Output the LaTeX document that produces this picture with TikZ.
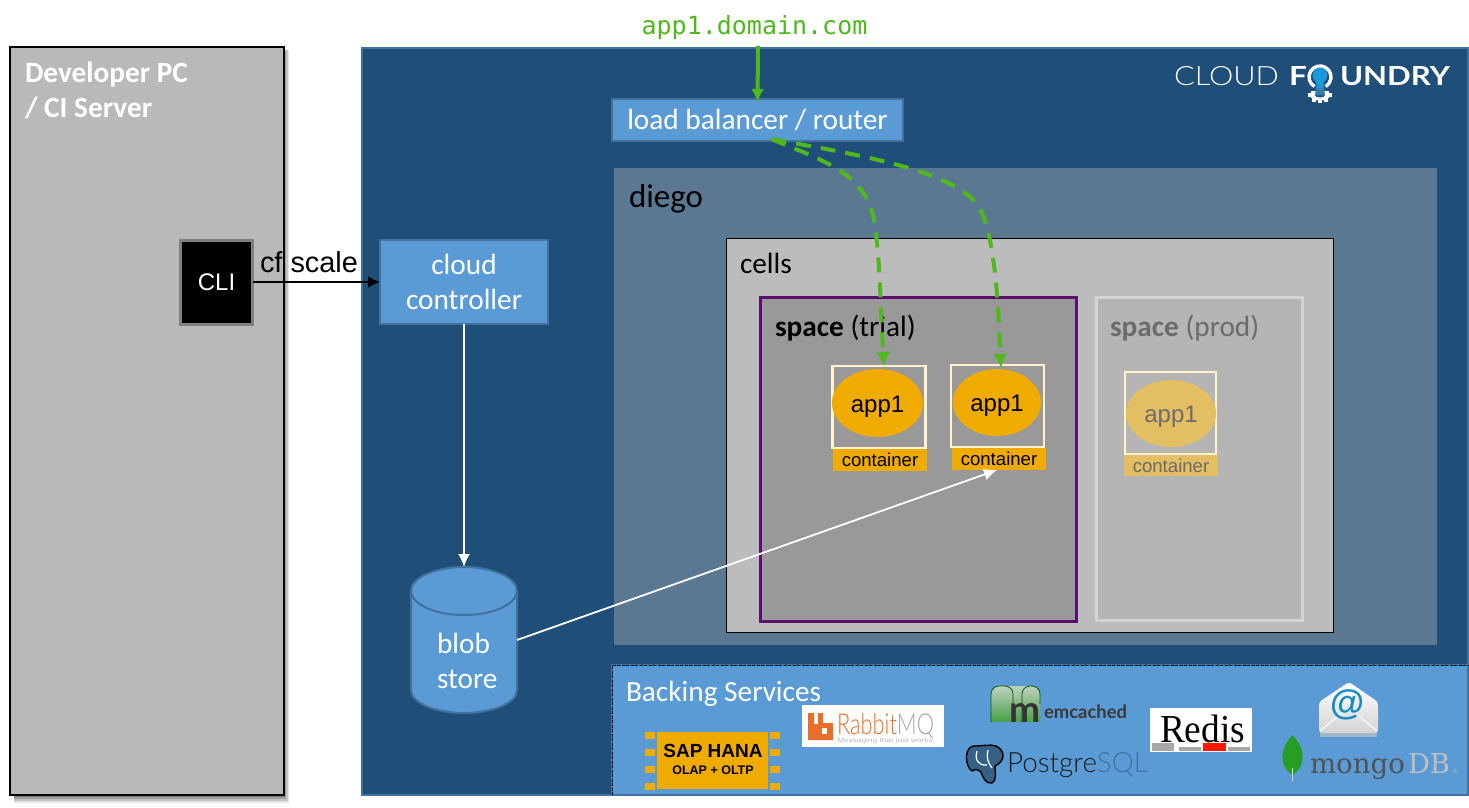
\documentclass[tikz,border=0pt]{standalone}
\usepackage{fontspec}
\usepackage{graphicx}
\setmainfont{Carlito}
\newfontfamily\arialf{Liberation Sans}
\newfontfamily\monof{DejaVu Sans Mono}
\newfontfamily\serf{Liberation Serif}
\newfontfamily\slabf{DejaVu Serif}
\newfontfamily\lightf{Lato Light}
\newfontfamily\latof{Lato}
\usetikzlibrary{arrows.meta,calc,shapes.geometric}
\definecolor{navy}{HTML}{1F4E79}
\definecolor{navyedge}{HTML}{41719C}
\definecolor{diegoc}{HTML}{5B7893}
\definecolor{cellsc}{HTML}{BCBCBC}
\definecolor{devc}{HTML}{B9B9B9}
\definecolor{bluec}{HTML}{5B9BD5}
\definecolor{orangec}{HTML}{F0AB00}
\definecolor{paleor}{HTML}{E4BE62}
\definecolor{greenc}{HTML}{4FB81C}
\definecolor{purplec}{HTML}{5A0F6B}
\definecolor{creamc}{HTML}{FFF2CC}
\definecolor{rabbitc}{HTML}{E96D2C}
\definecolor{cfblue}{HTML}{1A9ADB}
\newcommand{\fs}[1]{\fontsize{#1pt}{#1pt}\selectfont}
\newcommand{\fitw}[2]{\resizebox{#1pt}{!}{#2}}
\newcommand{\fitwh}[3]{\resizebox{#1pt}{#2pt}{#3}}
\tikzset{
  x=1pt,y=-1pt,
  plain/.style={inner sep=0pt,outer sep=0pt,rectangle},
  bluebox/.style={plain,fill=bluec,draw=navyedge,line width=2.4pt,text=white,align=center},
  panel/.style={plain,anchor=north west},
  contbox/.style={plain,draw=creamc,line width=2.2pt},
  appell/.style={plain,ellipse,fill=orangec,font=\arialf\fs{24},text=black,text height=18pt,text depth=0pt},
  contlab/.style={plain,fill=orangec,font=\arialf\fs{18.6},text=black},
  whitearrow/.style={draw=white,line width=1.8pt,-{Latex[length=13pt,width=12pt]}},
  greenarrow/.style={draw=greenc,line width=4pt,-{Latex[length=13pt,width=13pt]}},
  greendash/.style={draw=greenc,line width=4pt,dash pattern=on 15pt off 10pt,-{Latex[length=14pt,width=14pt]}},
  lbl/.style={plain,anchor=west},
  captxt/.style={font=\fs{29.3}},
}
\begin{document}
\begin{tikzpicture}
\useasboundingbox (0,0) rectangle (1469,808);
\fill[white] (0,0) rectangle (1469,808);
% developer PC
\foreach \dd/\oo in {8/.10,6/.14,4/.18,2/.22}{
  \fill[black,opacity=\oo] (14,50) rectangle (284+\dd*.6,795+\dd);
}
\node[panel,fill=devc,draw=black,line width=2pt,minimum width=274pt,minimum height=748pt] (dev) at (10,47) {};
\node[lbl,font=\fs{29.3}\bfseries,text=white,align=left] (devt) at (25,90.5) {Developer PC\\[5.7pt]/ CI Server};
% platform
\node[panel,fill=navy,draw=navyedge,line width=1.8pt,minimum width=1106pt,minimum height=747pt] (cf) at (362,48) {};
\node[panel,fill=diegoc,minimum width=823pt,minimum height=477pt] (diego) at (614,168) {};
\node[lbl,font=\fs{33},text=black] (diegot) at (629,199) {diego};
\node[panel,fill=cellsc,draw=black,line width=1pt,minimum width=607pt,minimum height=394pt] (cells) at (726,238) {};
\node[lbl,captxt,text=black] (cellst) at (740,263) {cells};
\node[panel,fill=black!40,draw=purplec,line width=3pt,minimum width=316.5pt,minimum height=324pt] (trial) at (760,297) {};
\node[lbl,captxt,text=black] (trialt) at (775,328) {\textbf{space} (trial)};
\node[panel,fill=black!29,draw=black!17,line width=3pt,minimum width=206.5pt,minimum height=323pt] (prod) at (1096,297) {};
\node[lbl,captxt,text=black!58] (prodt) at (1110,328) {\textbf{space} (prod)};
% containers
\node[contbox,minimum width=93pt,minimum height=82pt] (c1) at (879,407) {};
\node[appell,minimum width=91pt,minimum height=68pt] (a1) at (877.5,403) {app1};
\node[contlab,minimum width=94pt,minimum height=22pt] (l1) at (880,460) {container};
\node[contbox,minimum width=93pt,minimum height=82pt] (c2) at (997.5,406) {};
\node[appell,minimum width=88pt,minimum height=67pt] (a2) at (997,402.5) {app1};
\node[contlab,minimum width=94pt,minimum height=22pt] (l2) at (999,459) {container};
\node[contbox,minimum width=91pt,minimum height=82pt] (c3) at (1170.5,413) {};
\node[appell,fill=paleor,text=black!58,minimum width=90pt,minimum height=67pt] (a3) at (1171,413.5) {app1};
\node[contlab,fill=paleor,text=black!58,minimum width=94pt,minimum height=21pt] (l3) at (1171,465.5) {container};
% top row
\node[plain,font=\monof\fs{25},text=greenc] (url) at (754.5,27.5) {app1.domain.com};
\node[bluebox,captxt,minimum width=291pt,minimum height=42pt] (lb) at (757.5,120) {load balancer / router};
\node[bluebox,captxt,minimum width=168pt,minimum height=84pt] (cc) at (464,282) {\raisebox{-1pt}{cloud}\\[5.7pt]\raisebox{-1pt}{controller}};
\node[plain,fill=black,draw=black!50,line width=3pt,text=white,font=\arialf\fs{24},minimum width=72pt,minimum height=84pt] (cli) at (216.5,282) {CLI};
% blob store
\path[fill=bluec,draw=navyedge,line width=2pt] (411,591) arc[start angle=180,end angle=0,x radius=53,y radius=-24] -- (517,690) arc[start angle=0,end angle=180,x radius=53,y radius=23] -- cycle;
\path[draw=navyedge,line width=2pt] (411,591) arc[start angle=180,end angle=360,x radius=53,y radius=-24];
\node[plain,minimum height=146pt,minimum width=106pt] (blob) at (464,640) {};
\node[lbl,text=white,captxt,align=left] (blobt) at (437,660.5) {blob\\[5.7pt]store};
% backing services
\node[panel,fill=bluec,draw=navyedge,line width=1.6pt,minimum width=856pt,minimum height=130pt] (back) at (612,665) {};
\draw[black!80!navy,line width=.9pt,dash pattern=on 3pt off 1.5pt] (back.south west) -- (back.north west) -- (back.north east);
\node[lbl,captxt,text=white] (backt) at (626,694) {Backing Services};
% SAP HANA
\fill[orangec] (657,732) rectangle (768,789);
\foreach \yy in {732,749,766,783}{
  \fill[orangec] (645,\yy) rectangle (655,\yy+6.5);
  \fill[orangec] (770,\yy) rectangle (780,\yy+6.5);
}
\node[plain,font=\arialf\bfseries\fs{19},text=black] (sap) at (713,751) {SAP HANA};
\node[plain,font=\arialf\bfseries\fs{12.5},text=black] (olap) at (713,770) {OLAP + OLTP};
% RabbitMQ
\fill[white] (802,705) rectangle (944,747);
\fill[rabbitc] (808,713) -- (814,713) -- (814,724) -- (818,724) -- (818,713) -- (823,713) -- (823,723) -- (833,723) -- (833,740) -- (808,740) -- cycle;
\fill[white] (822,728) rectangle (827,734);
\node[plain,anchor=base west] (rab) at (837,734) {\fitwh{97}{21}{\lightf\textcolor{rabbitc}{Rabbit}\textcolor{black!35}{MQ}}};
\node[plain,anchor=base west,text=black!28] (rabs) at (837,742) {\fitwh{98}{4.5}{\arialf Messaging that just works.}};
% memcached
\shade[top color=green!30!black!25!white,bottom color=green!55!black,middle color=green!45!black!60!white,rounded corners=8pt] (991,740) -- (991,686) -- (1040,686) -- (1040,740) -- cycle;
\fill[bluec] (990,722) rectangle (1041,741);
\draw[green!35!black,line width=.8pt,rounded corners=8pt] (991,722) -- (991,686) -- (1013,686) -- (1013,722);
\draw[green!35!black,line width=.8pt,rounded corners=8pt] (1022,722) -- (1022,686) -- (1040,686) -- (1040,704);
\node[plain,anchor=base west,text=black!80] (mm) at (1009,722) {\fitwh{31}{19}{\latof\bfseries m}};
\node[plain,anchor=west,text=black!78] (mem) at (1044,712) {\fitw{83}{\latof\bfseries emcached}};
% PostgreSQL
\fill[navyedge!85!black,draw=black,line width=1.4pt] (976,746) .. controls (964,744) and (964,766) .. (972,771) .. controls (976,768) and (979,770) .. (981,772) .. controls (983,778) and (986,784) .. (992,783) .. controls (997,781) and (995,772) .. (995,766) .. controls (1006,761) and (1005,750) .. (996,746) .. controls (990,744) and (982,746) .. (976,746) -- cycle;
\draw[white,line width=1.2pt] (977,751) .. controls (974,760) and (979,766) .. (987,765) (988,750) .. controls (986,757) and (988,763) .. (992,768);
\node[plain,anchor=west] (pg) at (1007,765) {\fitw{141}{\lightf\textcolor{black!90}{Postgre}\textcolor{navyedge}{SQL}}};
% Redis
\fill[white] (1150,708) rectangle (1252,752);
\node[plain,anchor=center,text=black] (red) at (1202.5,728.5) {\fitwh{85}{27.5}{\serf Redis}};
\fill[black!34] (1152,743) rectangle (1174,751);
\fill[black!34] (1179,747) rectangle (1201,751);
\fill[red!80!orange] (1203,743) rectangle (1226,751);
\fill[black!34] (1228,747) rectangle (1250,751);
% mail
\fill[navyedge!45!black!30!white,opacity=.7] (1320,731) rectangle (1377,737);
\shade[top color=white,bottom color=black!17,rounded corners=3pt] (1319,702) -- (1349,682) -- (1378,702) -- (1378,733) -- (1319,733) -- cycle;
\draw[white,line width=.9pt] (1320,731) -- (1343,712) (1377,731) -- (1354,712);
\node[plain,font=\arialf\bfseries\fs{35},text=cfblue!90!black] (at) at (1348,705) {@};
% mongo
\fill[green!55!black!85] (1292.5,735) .. controls (1280,748) and (1278,766) .. (1292.5,775) .. controls (1307,766) and (1305,748) .. (1292.5,735) -- cycle;
\draw[black!15,line width=1.2pt] (1292.5,768) -- (1292.5,781);
\node[plain,anchor=base west,text=black!68] (mg) at (1310,773) {\fitw{95}{\slabf mongo}};
\node[plain,anchor=base west,text=black!25] (db) at (1408,773) {\fitwh{42}{20}{\slabf DB}};
\node[plain,font=\arialf\fs{6},text=black!28] (reg) at (1455.5,771) {®};
% Cloud Foundry logo
\node[plain,anchor=base west,text=white] (cl) at (1174,85) {\fitwh{105}{19}{\lightf CLOUD}};
\node[plain,anchor=base west,text=white] (fo) at (1289,85) {\fitwh{18}{19}{\latof\bfseries F}};
\node[plain,anchor=base west,text=white] (un) at (1340,85) {\fitwh{110}{19}{\latof\bfseries UNDRY}};
\draw[white,line width=3.4pt] (1314.5,86.5) arc[start angle=240,end angle=-60,x radius=11,y radius=-11];
\fill[white] (1320,95.5) ellipse[x radius=10,y radius=5];
\foreach \tx/\ty in {1308/93,1328/93,1312/98,1324/98,1318/99,1311/90.5,1325/90.5}{
  \fill[white] (\tx,\ty) rectangle (\tx+4,\ty+3.5);
}
\fill[navy] (1320,95) ellipse[x radius=5,y radius=2.5];
\fill[navyedge!70!cfblue] (1316.5,84) -- (1323.5,84) -- (1325,95) -- (1315,95) -- cycle;
\fill[cfblue] (1320,75) circle[radius=7.5];
\fill[cfblue] (1313.5,78.5) .. controls (1316,82) and (1317,84) .. (1317,88) -- (1323,88) .. controls (1323,84) and (1324,82) .. (1326.5,78.5) -- cycle;
% connectors
\draw[black,line width=2pt,-{Latex[length=12pt,width=12pt]}] (cli.east) -- (cc.west);
\node[plain,font=\arialf\fs{28.9},text=black] (cfs) at (309,262) {cf scale};
\draw[black,line width=2pt] (dev.north east) -- (dev.south east);
\draw[whitearrow] (cc.south) -- (blob.north);
\draw[whitearrow] (blob.east) -- ([xshift=-2pt]l2.south);
\draw[greenarrow] ($(url.south)+(3.5,6)$) -- ([yshift=-3pt]lb.north);
\draw[greendash] ([xshift=14pt,yshift=2pt]lb.south) .. controls (815,158) and (862,170) .. (873,215) .. controls (880,250) and (880,300) .. ([xshift=5pt]c1.north);
\draw[greendash] ([xshift=14pt,yshift=2pt]lb.south) .. controls (860,155) and (950,170) .. (978,205) .. controls (995,235) and (998,300) .. ([xshift=3.5pt,yshift=-3pt]c2.north);
\end{tikzpicture}
\end{document}
